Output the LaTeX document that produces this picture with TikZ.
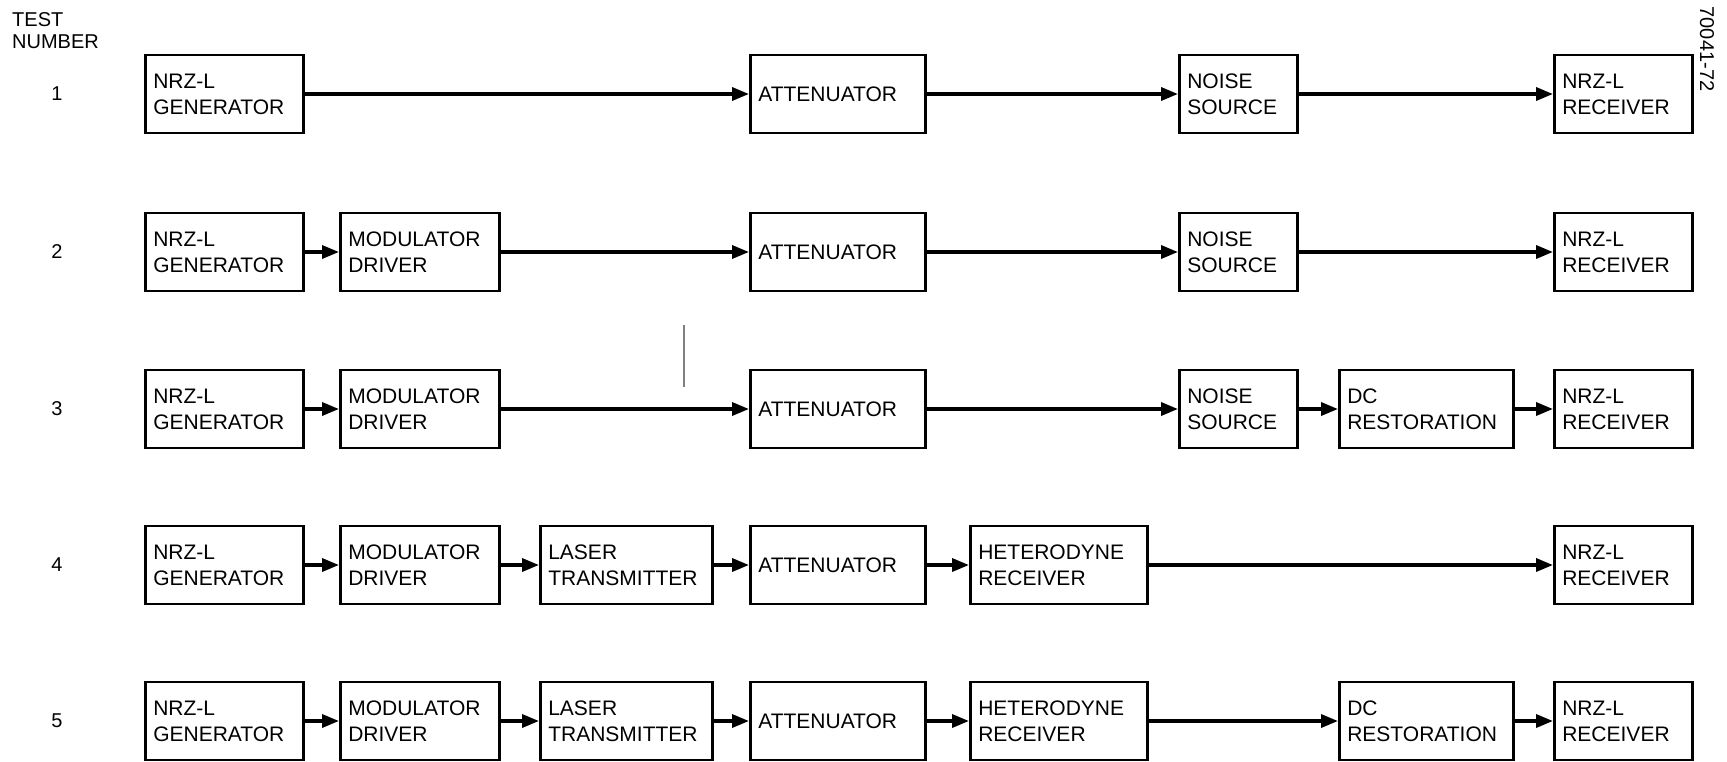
\documentclass[tikz,border=0pt]{standalone}
\usepackage{fontspec}
\setmainfont{Liberation Sans}
\usetikzlibrary{arrows.meta}
\tikzset{
  blk/.style={draw, line width=2.6pt, minimum height=78pt, text width=#1,
    align=left, inner xsep=8pt, anchor=west, font=\fontsize{21}{26}\selectfont},
  flow/.style={-{Triangle[length=17pt, width=13pt]}, line width=3.4pt},
  num/.style={font=\fontsize{20}{22}\selectfont}
}

\begin{document}
\begin{tikzpicture}[x=1pt, y=-1pt]
    \useasboundingbox (0,0) rectangle (1727,761);
    % --- Header ---
    \node[num, align=left, anchor=north west, inner sep=0pt] (head) at (12,12) {TEST\\NUMBER};
    \node[num, rotate=-90] (tag) at (1707,49) {70041-72};
    \node[num] (t1) at (57,94) {1};
    \node[num] (t2) at (57,252) {2};
    \node[num] (t3) at (57,409) {3};
    \node[num] (t4) at (57,565) {4};
    \node[num] (t5) at (57,721) {5};
    % --- Test 1 ---
    \node[blk=142pt] (g1) at (144,94) {NRZ-L\\GENERATOR};
    \node[blk=159pt] (a1) at (749,94) {ATTENUATOR};
    \node[blk=102pt] (n1) at (1178,94) {NOISE\\SOURCE};
    \node[blk=122pt] (r1) at (1553,94) {NRZ-L\\RECEIVER};
    \draw[flow] (g1) -- (a1);
    \draw[flow] (a1) -- (n1);
    \draw[flow] (n1) -- (r1);
    % --- Test 2 ---
    \node[blk=142pt] (g2) at (144,252) {NRZ-L\\GENERATOR};
    \node[blk=143pt] (m2) at (339,252) {MODULATOR\\DRIVER};
    \node[blk=159pt] (a2) at (749,252) {ATTENUATOR};
    \node[blk=102pt] (n2) at (1178,252) {NOISE\\SOURCE};
    \node[blk=122pt] (r2) at (1553,252) {NRZ-L\\RECEIVER};
    \draw[flow] (g2) -- (m2);
    \draw[flow] (m2) -- (a2);
    \draw[flow] (a2) -- (n2);
    \draw[flow] (n2) -- (r2);
    % --- Test 3 ---
    \node[blk=142pt] (g3) at (144,409) {NRZ-L\\GENERATOR};
    \node[blk=143pt] (m3) at (339,409) {MODULATOR\\DRIVER};
    \node[blk=159pt] (a3) at (749,409) {ATTENUATOR};
    \node[blk=102pt] (n3) at (1178,409) {NOISE\\SOURCE};
    \node[blk=158pt] (d3) at (1338,409) {DC\\RESTORATION};
    \node[blk=122pt] (r3) at (1553,409) {NRZ-L\\RECEIVER};
    \draw[flow] (g3) -- (m3);
    \draw[flow] (m3) -- (a3);
    \draw[flow] (a3) -- (n3);
    \draw[flow] (n3) -- (d3);
    \draw[flow] (d3) -- (r3);
    % --- Test 4 ---
    \node[blk=142pt] (g4) at (144,565) {NRZ-L\\GENERATOR};
    \node[blk=143pt] (m4) at (339,565) {MODULATOR\\DRIVER};
    \node[blk=156pt] (l4) at (539,565) {LASER\\TRANSMITTER};
    \node[blk=159pt] (a4) at (749,565) {ATTENUATOR};
    \node[blk=161pt] (h4) at (969,565) {HETERODYNE\\RECEIVER};
    \node[blk=122pt] (r4) at (1553,565) {NRZ-L\\RECEIVER};
    \draw[flow] (g4) -- (m4);
    \draw[flow] (m4) -- (l4);
    \draw[flow] (l4) -- (a4);
    \draw[flow] (a4) -- (h4);
    \draw[flow] (h4) -- (r4);
    % --- Test 5 ---
    \node[blk=142pt] (g5) at (144,721) {NRZ-L\\GENERATOR};
    \node[blk=143pt] (m5) at (339,721) {MODULATOR\\DRIVER};
    \node[blk=156pt] (l5) at (539,721) {LASER\\TRANSMITTER};
    \node[blk=159pt] (a5) at (749,721) {ATTENUATOR};
    \node[blk=161pt] (h5) at (969,721) {HETERODYNE\\RECEIVER};
    \node[blk=158pt] (d5) at (1338,721) {DC\\RESTORATION};
    \node[blk=122pt] (r5) at (1553,721) {NRZ-L\\RECEIVER};
    \draw[flow] (g5) -- (m5);
    \draw[flow] (m5) -- (l5);
    \draw[flow] (l5) -- (a5);
    \draw[flow] (a5) -- (h5);
    \draw[flow] (h5) -- (d5);
    \draw[flow] (d5) -- (r5);
    % --- stray mark between rows 2 and 3 ---
    \draw[gray, line width=1.2pt] (684,325) -- (684,387);
\end{tikzpicture}
\end{document}
